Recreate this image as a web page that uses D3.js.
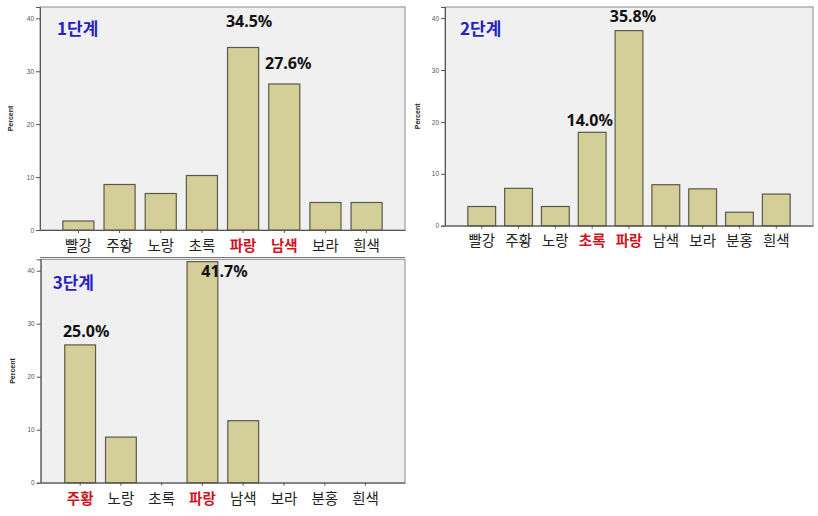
<!DOCTYPE html>
<html>
<head>
<meta charset="utf-8">
<script src="https://cdn.jsdelivr.net/npm/d3@7"></script>
<style>
  body { margin: 0; background: #fff; }
  svg { display: block; }
</style>
</head>
<body>
<div id="chart"></div>
<script>
// Data (percent)
const cats1 = ['빨강', '주황', '노랑', '초록', '파랑', '남색', '보라', '흰색'];
const vals1 = [1.7, 8.6, 6.9, 10.3, 34.5, 27.6, 5.2, 5.2];
const red1 = ['파랑', '남색'];
const notes1 = [['파랑', '34.5%'], ['남색', '27.6%']];

const cats2 = ['빨강', '주황', '노랑', '초록', '파랑', '남색', '보라', '분홍', '흰색'];
const vals2 = [3.7, 7.2, 3.7, 18.0, 37.6, 7.9, 7.1, 2.6, 6.1];
const red2 = ['초록', '파랑'];
const notes2 = [['초록', '14.0%'], ['파랑', '35.8%']];

const cats3 = ['주황', '노랑', '초록', '파랑', '남색', '보라', '분홍', '흰색'];
const vals3 = [26.0, 8.6, 0, 41.7, 11.7, 0, 0, 0];
const red3 = ['주황', '파랑'];
const notes3 = [['주황', '25.0%'], ['파랑', '41.7%']];

const yTicks = [0, 10, 20, 30, 40];

const width = 818, height = 516;
const korFont = '"Noto Sans CJK KR", "Noto Sans", sans-serif';

const svg = d3.select('#chart').append('svg')
    .attr('width', width)
    .attr('height', height)
    .attr('viewBox', [0, 0, width, height]);

// one SPSS-style bar panel
function drawPanel(cfg) {
    const g = svg.append('g');

    const x = d3.scaleBand()
        .domain(cfg.cats)
        .range([cfg.left, cfg.right])
        .paddingInner(0.245)
        .paddingOuter(cfg.outer);

    const y = d3.scaleLinear()
        .domain([0, 42.15])
        .range([cfg.bottom, cfg.top]);

    // plot background + frame
    g.append('rect')
        .attr('x', cfg.left).attr('y', cfg.top)
        .attr('width', cfg.right - cfg.left)
        .attr('height', cfg.bottom - cfg.top)
        .attr('fill', '#f0f0f0')
        .attr('stroke', '#8a8a8a')
        .attr('stroke-width', 1);

    // title
    g.append('text')
        .attr('x', cfg.left + cfg.titleDx)
        .attr('y', cfg.top + cfg.titleDy)
        .attr('font-family', korFont)
        .attr('font-weight', 'bold')
        .attr('font-size', 17)
        .attr('fill', '#2a1fc4')
        .text(cfg.title);

    // bars
    g.append('g')
        .selectAll('rect')
        .data(cfg.cats.map((c, i) => ({cat: c, val: cfg.vals[i]})))
        .join('rect')
        .attr('x', d => x(d.cat))
        .attr('y', d => y(d.val))
        .attr('width', x.bandwidth())
        .attr('height', d => y(0) - y(d.val))
        .attr('fill', '#d4ce98')
        .attr('stroke', '#5b5a48')
        .attr('stroke-width', 1.2);

    // y axis
    const yAxis = g.append('g')
        .attr('transform', `translate(${cfg.left},0)`)
        .call(d3.axisLeft(y).tickValues(yTicks).tickSize(4).tickPadding(2));
    yAxis.select('.domain').attr('stroke', '#555');
    yAxis.selectAll('.tick line').attr('stroke', '#555');
    yAxis.selectAll('.tick text')
        .attr('font-family', 'Liberation Sans, Arial, sans-serif')
        .attr('font-size', 6.5)
        .attr('fill', '#555');

    // x axis
    const xAxis = g.append('g')
        .attr('transform', `translate(0,${cfg.bottom})`)
        .call(d3.axisBottom(x).tickSize(3).tickPadding(cfg.labelPad).tickSizeOuter(0));
    xAxis.select('.domain').attr('stroke', '#555');
    xAxis.selectAll('.tick line').attr('stroke', '#555');
    xAxis.selectAll('.tick text')
        .attr('font-family', korFont)
        .attr('font-size', 14.5)
        .attr('font-weight', d => cfg.red.includes(d) ? 'bold' : 'normal')
        .attr('fill', d => cfg.red.includes(d) ? '#d0141e' : '#222');

    // y label
    g.append('text')
        .attr('transform', `translate(${cfg.left - cfg.ylabDx},${(cfg.top + cfg.bottom) / 2}) rotate(-90)`)
        .attr('text-anchor', 'middle')
        .attr('font-family', 'Liberation Sans, Arial, sans-serif')
        .attr('font-weight', 'bold')
        .attr('font-size', 7)
        .attr('fill', '#222')
        .text('Percent');

    // value notes
    const lookup = new Map(cfg.cats.map((c, i) => [c, cfg.vals[i]]));
    g.append('g')
        .selectAll('text')
        .data(cfg.notes)
        .join('text')
        .attr('x', (d, i) => x(d[0]) + x.bandwidth() / 2 + cfg.noteOff[i][0])
        .attr('y', (d, i) => y(lookup.get(d[0])) + cfg.noteOff[i][1])
        .attr('text-anchor', 'middle')
        .attr('font-family', '"Noto Sans", sans-serif')
        .attr('font-weight', 'bold')
        .attr('font-size', 16)
        .attr('fill', '#111')
        .text(d => d[1]);

    return g;
}

drawPanel({
    cats: cats1, vals: vals1, red: red1, notes: notes1, title: '1단계',
    left: 40, right: 405, top: 7, bottom: 230, outer: 0.555,
    titleDx: 17, titleDy: 28, labelPad: 8, ylabDx: 27,
    noteOff: [[6, -20], [4, -15]]
});

drawPanel({
    cats: cats2, vals: vals2, red: red2, notes: notes2, title: '2단계',
    left: 445, right: 813, top: 7, bottom: 225.7, outer: 0.62,
    titleDx: 15, titleDy: 28, labelPad: 7, ylabDx: 25,
    noteOff: [[-2.5, -6], [4, -9]]
});

drawPanel({
    cats: cats3, vals: vals3, red: red3, notes: notes3, title: '3단계',
    left: 40.7, right: 405, top: 259.3, bottom: 482.7, outer: 0.59,
    titleDx: 12, titleDy: 30, labelPad: 8, ylabDx: 26,
    noteOff: [[6, -8], [22, 15]]
});

// separator line under first panel
svg.append('line')
    .attr('x1', 40).attr('x2', 405)
    .attr('y1', 257.5).attr('y2', 257.5)
    .attr('stroke', '#777');
</script>
</body>
</html>
